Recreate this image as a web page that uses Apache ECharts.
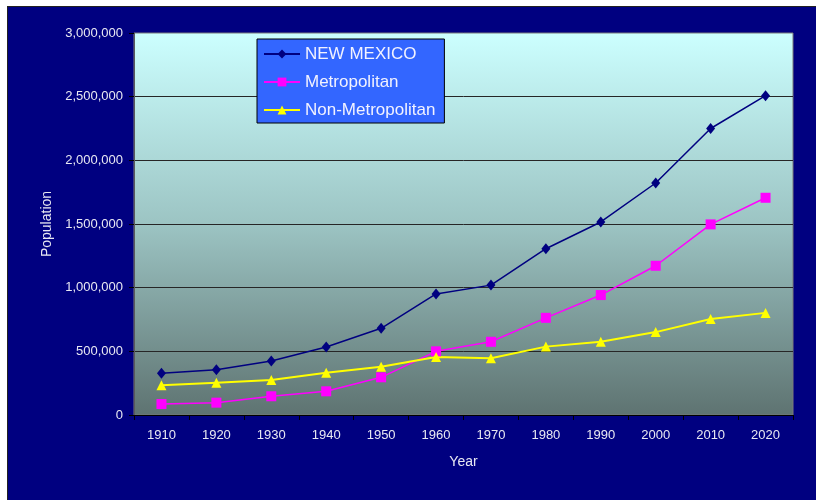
<!DOCTYPE html>
<html>
<head>
<meta charset="utf-8">
<script src="https://cdn.jsdelivr.net/npm/echarts@6/dist/echarts.min.js"></script>
<style>
  html, body { margin: 0; padding: 0; background: #ffffff; }
  #frame { position: absolute; left: 7px; top: 6px; right: 0; bottom: 0;
           background: #000080; border-left: 1px solid #222; border-top: 1px solid #222; }
  #chart { position: absolute; left: 0; top: 0; width: 816px; height: 500px; }
</style>
</head>
<body>
<div id="frame"></div>
<div id="chart"></div>
<script>
// Census years on the category axis
const years = ['1910', '1920', '1930', '1940', '1950', '1960', '1970', '1980', '1990', '2000', '2010', '2020'];

// Population by area type
const newMexico = [327000, 356000, 424000, 534000, 681000, 951000, 1020000, 1306000, 1516000, 1822000, 2250000, 2508000];
const metropolitan = [86000, 97000, 147000, 186000, 296000, 500000, 575000, 763000, 942000, 1172000, 1497000, 1706000];
const nonMetropolitan = [233000, 254000, 275000, 332000, 379000, 455000, 446000, 537000, 575000, 651000, 754000, 802000];

const FONT = '"Liberation Sans", Arial, sans-serif';
const TEXT = '#e8e8f2';

const chart = echarts.init(document.getElementById('chart'), null, { renderer: 'canvas' });

chart.setOption({
  animation: false,
  backgroundColor: 'transparent',
  textStyle: { fontFamily: FONT },
  grid: {
    left: 134, top: 33, right: 23, bottom: 85,
    show: true,
    borderColor: '#7a7a7a',
    borderWidth: 1,
    backgroundColor: {
      type: 'linear', x: 0, y: 0, x2: 0, y2: 1,
      colorStops: [
        { offset: 0, color: '#ccffff' },
        { offset: 0.5, color: '#9cc4c3' },
        { offset: 1, color: '#5e7371' }
      ]
    }
  },
  legend: {
    orient: 'vertical',
    left: 257,
    top: 39,
    backgroundColor: '#3366ff',
    borderColor: '#000000',
    borderWidth: 1,
    borderRadius: 0,
    padding: [5, 9, 3, 6],
    itemWidth: 36,
    itemHeight: 11,
    itemGap: 8,
    textStyle: { color: '#f2f2ff', fontSize: 17, fontFamily: FONT, lineHeight: 20 },
    data: ['NEW MEXICO', 'Metropolitan', 'Non-Metropolitan']
  },
  xAxis: {
    type: 'category',
    data: years,
    boundaryGap: true,
    name: 'Year',
    nameLocation: 'middle',
    nameGap: 40,
    nameTextStyle: { color: TEXT, fontSize: 14, fontFamily: FONT },
    axisLine: { show: true, lineStyle: { color: '#000000', width: 1 } },
    axisTick: { show: true, inside: false, length: 5, alignWithLabel: false, interval: 0, lineStyle: { color: '#000000' } },
    axisLabel: { color: TEXT, fontSize: 13, margin: 14, interval: 0, fontFamily: FONT },
    splitLine: { show: false }
  },
  yAxis: {
    type: 'value',
    min: 0,
    max: 3000000,
    interval: 500000,
    name: 'Population',
    nameLocation: 'middle',
    nameGap: 80,
    nameRotate: 90,
    nameTextStyle: { color: TEXT, fontSize: 14, fontFamily: FONT },
    axisLine: { show: true, lineStyle: { color: '#5a5a5a', width: 1 } },
    axisTick: { show: true, inside: false, length: 5, lineStyle: { color: '#000000' } },
    axisLabel: {
      color: TEXT, fontSize: 13, margin: 11, fontFamily: FONT,
      formatter: v => v.toLocaleString('en-US')
    },
    splitLine: { show: true, showMinLine: false, showMaxLine: false, lineStyle: { color: '#262626', width: 1 } }
  },
  series: [
    {
      name: 'NEW MEXICO', type: 'line', data: newMexico,
      symbol: 'diamond', symbolSize: [9, 11],
      lineStyle: { color: '#000080', width: 1.5 },
      itemStyle: { color: '#000080' }
    },
    {
      name: 'Metropolitan', type: 'line', data: metropolitan,
      symbol: 'rect', symbolSize: 10,
      lineStyle: { color: '#ff00ff', width: 1.5 },
      itemStyle: { color: '#ff00ff' }
    },
    {
      name: 'Non-Metropolitan', type: 'line', data: nonMetropolitan,
      symbol: 'triangle', symbolSize: 10,
      lineStyle: { color: '#ffff00', width: 2 },
      itemStyle: { color: '#ffff00' }
    }
  ]
});
</script>
</body>
</html>
